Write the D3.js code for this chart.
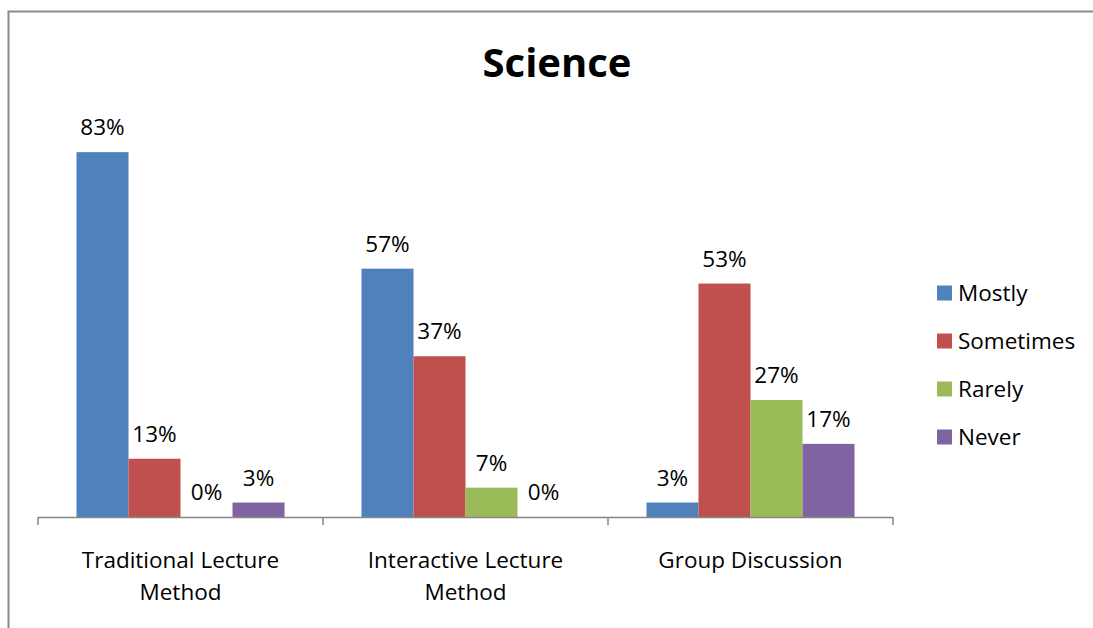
<!DOCTYPE html>
<html><head><meta charset="utf-8">
<script src="https://cdn.jsdelivr.net/npm/d3@7"></script>
<style>body{margin:0;background:#fff}svg{display:block}text{font-family:"Open Sans",sans-serif;fill:#000}</style>
</head><body>
<svg id="c" width="1093" height="628"></svg>
<script>
const title = "Science";
const categories = [["Traditional Lecture","Method"],["Interactive Lecture","Method"],["Group Discussion"]];
const seriesNames = ["Mostly","Sometimes","Rarely","Never"];
const mostly = [83.3, 56.7, 3.3];
const sometimes = [13.3, 36.7, 53.3];
const rarely = [0, 6.7, 26.7];
const never = [3.3, 0, 16.7];
const colors = ["#4F81BD","#C0504D","#9BBB59","#8064A2"];

const seriesValues = [mostly, sometimes, rarely, never];
const svg = d3.select("#c");
const FS = 22.5;

// outer chart border
svg.append("path").attr("d","M8.5,628 V11.5 H1093").attr("fill","none").attr("stroke","#8a8a8a").attr("stroke-width",2);

const x0 = d3.scaleBand().domain(d3.range(categories.length)).range([38, 893]).paddingInner(0).paddingOuter(0);
const x1 = d3.scaleBand().domain(d3.range(seriesNames.length)).range([0, x0.bandwidth()]).paddingInner(0).paddingOuter(0.74);
const y = d3.scaleLinear().domain([0, 90]).range([517, 122.8]);

const g = svg.append("g");
categories.forEach((c, ci) => {
  seriesValues.forEach((vals, si) => {
    const v = vals[ci];
    const bx = x0(ci) + x1(si);
    if (v > 0) {
      g.append("rect").attr("x", bx).attr("y", y(v)).attr("width", x1.bandwidth()).attr("height", y(0) - y(v)).attr("fill", colors[si]);
    }
    g.append("text").attr("x", bx + x1.bandwidth()/2).attr("y", y(v) - 17)
      .attr("text-anchor","middle").attr("font-size", FS).text(Math.round(v) + "%");
  });
});

// x axis
const xAxisLine = svg.append("g");
xAxisLine.append("line").attr("x1", 38).attr("x2", 893).attr("y1", 517.5).attr("y2", 517.5).attr("stroke","#868686").attr("stroke-width",1.5);
const tickPos = d3.range(categories.length + 1).map(i => i < categories.length ? x0(i) : x0(i-1) + x0.bandwidth());
tickPos.forEach(t => {
  xAxisLine.append("line").attr("x1", t).attr("x2", t).attr("y1", 517).attr("y2", 525).attr("stroke","#868686").attr("stroke-width",1.5);
});
categories.forEach((c, ci) => {
  const t = svg.append("text").attr("x", x0(ci) + x0.bandwidth()/2).attr("y", 568).attr("text-anchor","middle").attr("font-size", FS);
  c.forEach((line, li) => {
    t.append("tspan").attr("x", x0(ci) + x0.bandwidth()/2).attr("dy", li === 0 ? 0 : 32).text(line);
  });
});

// title
svg.append("text").attr("x", 557).attr("y", 77).attr("text-anchor","middle").attr("font-size", 40).attr("font-weight","bold").text(title);

// legend
const leg = svg.append("g");
seriesNames.forEach((n, i) => {
  const cy = 293 + i * 48;
  leg.append("rect").attr("x", 937).attr("y", cy - 7.5).attr("width", 15).attr("height", 15).attr("fill", colors[i]);
  leg.append("text").attr("x", 958).attr("y", cy + 8).attr("font-size", FS).text(n);
});
</script>
</body></html>
